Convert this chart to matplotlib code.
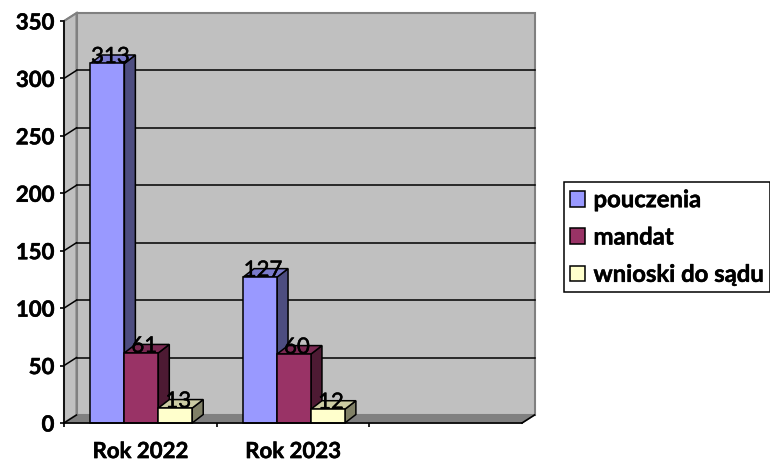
import matplotlib
matplotlib.use('Agg')
import matplotlib.pyplot as plt
import matplotlib.patheffects as pe
from matplotlib.patches import Patch

plt.rcParams['font.family'] = ['Lato', 'DejaVu Sans']

categories = ['Rok 2022', 'Rok 2023']
series_names = ['pouczenia', 'mandat', 'wnioski do sądu']
pouczenia = [313, 127]
mandat = [61, 60]
wnioski = [13, 12]
y_ticks = [0, 50, 100, 150, 200, 250, 300, 350]

front_colors = ['#9999FF', '#993366', '#FFFFCC']
side_colors = ['#4D4D80', '#4D1A33', '#808066']
top_colors = ['#7A7ACC', '#7A2952', '#CCCCA3']

W, H = 770, 461
fig = plt.figure(figsize=(W / 100, H / 100), dpi=100)
# pixel box of the front plane
ax = fig.add_axes([64 / W, 1 - 423 / H, 458 / W, 402 / H])
ax.set_xlim(0, 3)
ax.set_ylim(0, 350)
px_x = 3 / 458
px_y = 350 / 402

# wall / bar depth
wall_dx, wall_dy = 12.5 * px_x, 8 * px_y
bar_dx, bar_dy = 11 * px_x, 8.5 * px_y
bar_w = 1 / 4.5
bar_start = 0.75 / 4.5 + 1 * px_x

# makes the text a little heavier, the reference is blurry and dark
heavy = [pe.withStroke(linewidth=0.35, foreground='black')]


def poly(xs, ys, **kw):
    ax.fill(xs, ys, clip_on=False, **kw)


# back wall, side wall, floor
poly([wall_dx, 3 + wall_dx, 3 + wall_dx, wall_dx], [wall_dy, wall_dy, 350 + wall_dy, 350 + wall_dy],
     facecolor='#C0C0C0', edgecolor='#808080', lw=1.5, zorder=1)
poly([0, wall_dx, wall_dx, 0], [0, wall_dy, 350 + wall_dy, 350],
     facecolor='#C0C0C0', edgecolor='#808080', lw=1.5, zorder=1)
poly([0, 3, 3 + wall_dx, wall_dx], [0, 0, wall_dy, wall_dy],
     facecolor='#808080', edgecolor='#808080', lw=1, zorder=1)
ax.plot([3, 3 + wall_dx], [0, wall_dy], color='black', lw=1.2, clip_on=False, zorder=2)

# gridlines on the wall plus the slant on the side wall
for v in y_ticks[1:-1]:
    ax.plot([wall_dx, 3 + wall_dx], [v + wall_dy, v + wall_dy], color='black', lw=1.1, clip_on=False, zorder=2)
for v in y_ticks:
    ax.plot([0, wall_dx], [v, v + wall_dy], color='black' if v < 350 else '#808080', lw=1.1, clip_on=False, zorder=2)

# bars, left to right so the next front hides the previous side
z = 3
for c in range(len(categories)):
    for s, vals in enumerate([pouczenia, mandat, wnioski]):
        x0 = c + bar_start + s * bar_w
        x1 = x0 + bar_w
        v = vals[c]
        poly([x1, x1 + bar_dx, x1 + bar_dx, x1], [0, bar_dy, v + bar_dy, v],
             facecolor=side_colors[s], edgecolor='black', lw=1.1, zorder=z)
        poly([x0, x1, x1 + bar_dx, x0 + bar_dx], [v, v, v + bar_dy, v + bar_dy],
             facecolor=top_colors[s], edgecolor='black', lw=1.1, zorder=z)
        poly([x0, x1, x1, x0], [0, 0, v, v],
             facecolor=front_colors[s], edgecolor='black', lw=1.1, zorder=z)
        ax.text((x0 + x1) / 2 + 3 * px_x, v - 3, str(v), ha='center', va='bottom',
                fontsize=16, color='black', zorder=20, clip_on=False, path_effects=heavy)
        z += 1

for name in ['top', 'right']:
    ax.spines[name].set_visible(False)
for name in ['left', 'bottom']:
    ax.spines[name].set_linewidth(1.2)
    ax.spines[name].set_zorder(15)

ax.set_yticks(y_ticks)
ax.set_yticklabels([str(v) for v in y_ticks], fontsize=16, fontweight='bold', path_effects=heavy)
ax.set_xticks([0, 1, 2])
ax.set_xticks([0.5, 1.5], minor=True)
ax.set_xticklabels([])
ax.set_xticklabels(categories, minor=True, fontsize=16, fontweight='bold', path_effects=heavy)
ax.tick_params(axis='y', length=3, width=1.2, pad=4)
ax.tick_params(axis='x', which='major', length=3, width=1.2)
ax.tick_params(axis='x', which='minor', length=0, pad=13)

handles = [Patch(facecolor=front_colors[i], edgecolor='black', lw=1.1) for i in range(3)]
leg = fig.legend(handles, series_names, loc='center left', bbox_to_anchor=(564 / W, 1 - 237 / H),
                 frameon=True, fancybox=False, edgecolor='black', framealpha=1,
                 prop={'weight': 'bold', 'size': 17.2}, handlelength=0.63, handleheight=0.63,
                 handletextpad=0.34, labelspacing=0.6, borderpad=0.265, borderaxespad=0)
leg.get_frame().set_linewidth(1.1)
for t in leg.get_texts():
    t.set_path_effects(heavy)

fig.savefig('out.png', dpi=100)
